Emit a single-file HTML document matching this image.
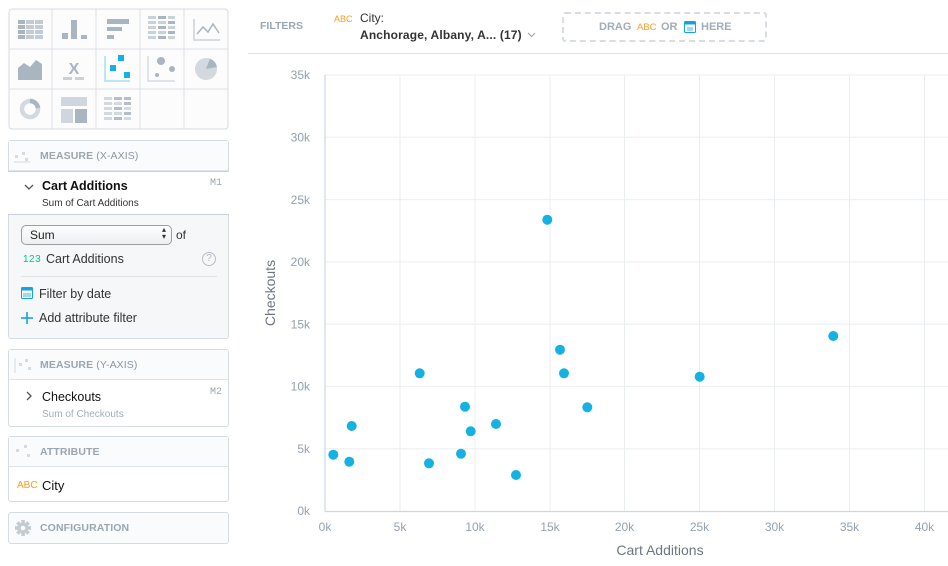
<!DOCTYPE html>
<html><head><meta charset="utf-8">
<style>
*{margin:0;padding:0;box-sizing:border-box}
body{width:948px;height:566px;background:#fff;font-family:"Liberation Sans",sans-serif;position:relative;overflow:hidden}
.a{position:absolute}
.box{position:absolute;border:1px solid #d4dbe3;border-radius:3px;background:#fff}
.hdr{position:absolute;left:0;right:0;background:#fafbfc;border-bottom:1px solid #dfe4ea;height:30px}
.ht{position:absolute;left:31px;top:9px;font-size:10.5px;font-weight:bold;color:#9aa6b2;letter-spacing:0.1px}
.ht span{font-weight:normal;color:#8a96a2}
.t{position:absolute;white-space:nowrap}
</style></head><body>

<!-- Icon grid -->
<svg class="a" style="left:0;top:0" width="240" height="135">
<rect x="9" y="9" width="219" height="120" rx="3" fill="#fcfcfd" stroke="#d4dbe3"/>
<g stroke="#dbe1e8" stroke-width="1">
<line x1="52" y1="9" x2="52" y2="129"/><line x1="96" y1="9" x2="96" y2="129"/>
<line x1="140" y1="9" x2="140" y2="129"/><line x1="184" y1="9" x2="184" y2="129"/>
<line x1="9" y1="49" x2="228" y2="49"/><line x1="9" y1="89" x2="228" y2="89"/>
</g>
<g fill="#c3ccd5"><rect x="18" y="20" width="7" height="4" fill="#a9b5c1"/><rect x="26" y="20" width="8" height="4"/><rect x="35" y="20" width="8" height="4"/>
<rect x="18" y="25" width="7" height="4" fill="#a9b5c1"/><rect x="26" y="25" width="8" height="4"/><rect x="35" y="25" width="8" height="4"/>
<rect x="18" y="30" width="7" height="4" fill="#a9b5c1"/><rect x="26" y="30" width="8" height="4"/><rect x="35" y="30" width="8" height="4"/>
<rect x="18" y="35" width="7" height="4" fill="#a9b5c1"/><rect x="26" y="35" width="8" height="4"/><rect x="35" y="35" width="8" height="4"/></g>
<g fill="#a9b5c1"><rect x="62" y="33" width="6" height="6"/><rect x="71" y="20" width="6" height="19"/><rect x="81" y="35" width="6" height="4"/></g>
<g fill="#a9b5c1"><rect x="107" y="19" width="22" height="5"/><rect x="107" y="27" width="15" height="4"/><rect x="107" y="35" width="7" height="4"/></g>
<g fill="#c9d1d9"><rect x="148" y="16" width="8" height="3"/><rect x="158" y="16" width="8" height="3" fill="#a9b5c1"/><rect x="168" y="16" width="7" height="3"/>
<rect x="148" y="21" width="8" height="3"/><rect x="158" y="21" width="8" height="3"/><rect x="168" y="21" width="7" height="3" fill="#a9b5c1"/>
<rect x="148" y="26" width="8" height="3"/><rect x="158" y="26" width="8" height="3" fill="#a9b5c1"/><rect x="168" y="26" width="7" height="3"/>
<rect x="148" y="31" width="8" height="3"/><rect x="158" y="31" width="8" height="3"/><rect x="168" y="31" width="7" height="3" fill="#a9b5c1"/>
<rect x="148" y="36" width="8" height="3"/><rect x="158" y="36" width="8" height="3" fill="#a9b5c1"/><rect x="168" y="36" width="7" height="3"/></g>
<polyline points="194,19 194,40 220,40" fill="none" stroke="#c9d1d9" stroke-width="1.5"/>
<polyline points="197,34 203,27 208,32 213,24 219,33" fill="none" stroke="#a9b5c1" stroke-width="1.5"/>
<polygon points="18,68 24,63 30,67 36,60 42,64 42,80 18,80" fill="#a9b5c1"/>
<text x="74" y="74" text-anchor="middle" font-size="16" font-weight="bold" fill="#a9b5c1" font-family="Liberation Sans">X</text>
<rect x="63" y="77" width="9" height="3" fill="#c9d1d9"/><rect x="75" y="77" width="9" height="3" fill="#c9d1d9"/>
<polyline points="105,56 105,81 130,81" fill="none" stroke="#a7dff2" stroke-width="1.5"/>
<g fill="#14b2e2"><rect x="110" y="65" width="6" height="6"/><rect x="118" y="55" width="6" height="6"/><rect x="124" y="72" width="6" height="6"/></g>
<polyline points="148,56 148,81 175,81" fill="none" stroke="#d5dbe2" stroke-width="1.5"/>
<g fill="#a9b5c1"><circle cx="161" cy="61" r="4"/><circle cx="172" cy="69" r="3"/><circle cx="157" cy="75" r="2"/></g>
<circle cx="206" cy="69" r="11" fill="#d3d9df"/>
<path d="M206,69 L210,58.7 A11,11 0 0 1 217,67 Z" fill="#a9b5c1"/>
<circle cx="30" cy="109" r="8" fill="none" stroke="#d3d9df" stroke-width="4.5"/>
<path d="M30,101 A8,8 0 0 1 38,108" fill="none" stroke="#a9b5c1" stroke-width="4.5"/>
<rect x="61" y="97" width="26" height="9" fill="#cfd6dd"/><rect x="61" y="109" width="12" height="14" fill="#cfd6dd"/><rect x="75" y="109" width="12" height="14" fill="#a9b5c1"/>
<g fill="#d3d9df"><rect x="104" y="97" width="8" height="3"/><rect x="114" y="97" width="8" height="3" fill="#b3bec9"/><rect x="124" y="97" width="7" height="3" fill="#b3bec9"/>
<rect x="104" y="102" width="8" height="3"/><rect x="114" y="102" width="8" height="3"/><rect x="124" y="102" width="7" height="3" fill="#b3bec9"/>
<rect x="104" y="107" width="8" height="3"/><rect x="114" y="107" width="8" height="3" fill="#b3bec9"/><rect x="124" y="107" width="7" height="3"/>
<rect x="104" y="112" width="8" height="3"/><rect x="114" y="112" width="8" height="3"/><rect x="124" y="112" width="7" height="3" fill="#b3bec9"/>
<rect x="104" y="117" width="8" height="3"/><rect x="114" y="117" width="8" height="3" fill="#b3bec9"/><rect x="124" y="117" width="7" height="3"/></g>
</svg>

<!-- Measure X -->
<div class="box" style="left:8px;top:140px;width:221px;height:199px;background:#f6f7f9">
  <div class="hdr" style="top:0;background:#fafbfc"><div class="ht">MEASURE <span>(X-AXIS)</span></div></div>
  <div class="a" style="left:-1px;right:-1px;top:30px;height:44px;background:#fff;border:1px solid #c9d2dc;border-left:none;border-right:none"></div>
  <div class="t" style="left:33px;top:38px;font-size:12.5px;font-weight:bold;color:#111">Cart Additions</div>
  <div class="t" style="left:33px;top:57px;font-size:10px;color:#333">Sum of Cart Additions</div>
  <div class="t" style="left:201px;top:37px;font-size:10px;color:#9aa6b2;font-family:'Liberation Mono',monospace">M1</div>
  <div class="a" style="left:12px;top:84px;width:151px;height:20px;border:1px solid #9a9fa5;border-radius:5px;background:linear-gradient(#fdfdfd,#eeeff1)"></div>
  <div class="t" style="left:21px;top:87px;font-size:12px;color:#222">Sum</div>
  <div class="t" style="left:153px;top:85px;font-size:8px;color:#333;line-height:7px">▴<br>▾</div>
  <div class="t" style="left:167px;top:87px;font-size:12px;color:#333">of</div>
  <div class="t" style="left:14px;top:113px;font-size:10px;color:#00c18d;letter-spacing:0.5px">123</div>
  <div class="t" style="left:37px;top:111px;font-size:12.5px;color:#333">Cart Additions</div>
  <div class="a" style="left:193px;top:111px;width:14px;height:14px;border:1px solid #b7bec6;border-radius:50%;font-size:10px;color:#b0b8c0;text-align:center;line-height:12px">?</div>
  <div class="a" style="left:12px;top:135px;width:196px;height:1px;background:#dfe3e8"></div>
  <div class="t" style="left:30px;top:146px;font-size:12.5px;color:#333">Filter by date</div>
  <div class="t" style="left:30px;top:170px;font-size:12.5px;color:#333">Add attribute filter</div>
</div>
<svg class="a" style="left:0;top:140px" width="240" height="200">
  <g fill="#d5dbe1"><rect x="15" y="15" width="3" height="3"/><rect x="22" y="12" width="3" height="3"/><rect x="25" y="18" width="3" height="3"/></g>
  <line x1="14" y1="22" x2="30" y2="22" stroke="#d5dbe1"/>
  <polyline points="25,45 29,49 33,45" fill="none" stroke="#555" stroke-width="1.3"/>
  <rect x="21.5" y="147.5" width="11" height="11" rx="1" fill="none" stroke="#14a3dd"/>
  <rect x="21.5" y="147.5" width="11" height="3" fill="#14a3dd"/>
  <rect x="23" y="153" width="8" height="4" fill="#9fd8ef"/>
  <line x1="27" y1="172" x2="27" y2="184" stroke="#14a3dd" stroke-width="1.6"/>
  <line x1="21" y1="178" x2="33" y2="178" stroke="#14a3dd" stroke-width="1.6"/>
</svg>

<!-- Measure Y -->
<div class="box" style="left:8px;top:349px;width:221px;height:78px">
  <div class="hdr" style="top:0"><div class="ht">MEASURE <span>(Y-AXIS)</span></div></div>
  <div class="t" style="left:33px;top:40px;font-size:12.5px;color:#111">Checkouts</div>
  <div class="t" style="left:33px;top:59px;font-size:10px;color:#a3adb7">Sum of Checkouts</div>
  <div class="t" style="left:201px;top:37px;font-size:10px;color:#9aa6b2;font-family:'Liberation Mono',monospace">M2</div>
</div>
<svg class="a" style="left:0;top:349px" width="240" height="80">
  <line x1="15" y1="9" x2="15" y2="24" stroke="#d5dbe1"/>
  <g fill="#d5dbe1"><rect x="19" y="14" width="3" height="3"/><rect x="25" y="10" width="3" height="3"/><rect x="28" y="18" width="3" height="3"/></g>
  <polyline points="27,43 31,47 27,51" fill="none" stroke="#555" stroke-width="1.3"/>
</svg>

<!-- Attribute -->
<div class="box" style="left:8px;top:436px;width:221px;height:66px">
  <div class="hdr" style="top:0"><div class="ht">ATTRIBUTE</div></div>
  <div class="t" style="left:8px;top:43px;font-size:10px;color:#ff9a1d">ABC</div>
  <div class="t" style="left:33px;top:41px;font-size:13px;color:#111">City</div>
</div>
<svg class="a" style="left:0;top:436px" width="40" height="30">
  <g fill="#d5dbe1"><rect x="16" y="13" width="3" height="3"/><rect x="24" y="9" width="3" height="3"/><rect x="27" y="18" width="3" height="3"/></g>
</svg>

<!-- Configuration -->
<div class="box" style="left:8px;top:512px;width:221px;height:32px;background:#fafbfc">
  <div class="ht" style="top:9px">CONFIGURATION</div>
</div>
<svg class="a" style="left:14px;top:519px" width="18" height="18">
  <g fill="#c3ccd5" transform="translate(9,9)">
    <circle r="5.5"/>
    <g><rect x="-1.8" y="-8" width="3.6" height="16"/><rect x="-1.8" y="-8" width="3.6" height="16" transform="rotate(45)"/><rect x="-1.8" y="-8" width="3.6" height="16" transform="rotate(90)"/><rect x="-1.8" y="-8" width="3.6" height="16" transform="rotate(135)"/></g>
    <circle r="2.3" fill="#fafbfc"/>
  </g>
</svg>

<!-- Filter bar -->
<div class="t" style="left:260px;top:20px;font-size:10.5px;font-weight:bold;color:#9aa6b2">FILTERS</div>
<div class="t" style="left:334px;top:14px;font-size:9px;color:#ff9a1d">ABC</div>
<div class="t" style="left:360px;top:11px;font-size:12px;color:#333">City:</div>
<div class="t" style="left:360px;top:28px;font-size:12px;font-weight:bold;color:#333;letter-spacing:0.15px">Anchorage, Albany, A... (17)</div>
<svg class="a" style="left:527px;top:31px" width="10" height="8"><polyline points="1,2 4.5,5.5 8,2" fill="none" stroke="#9aa6b2" stroke-width="1.1"/></svg>
<div class="a" style="left:562px;top:12px;width:205px;height:30px;border:2px dashed #d8dde3;border-radius:3px"></div>
<div class="t" style="left:599px;top:21px;font-size:11px;font-weight:bold;color:#a3adb7">DRAG</div>
<div class="t" style="left:637px;top:22px;font-size:9.5px;color:#ff9a1d">ABC</div>
<div class="t" style="left:661px;top:21px;font-size:11px;font-weight:bold;color:#a3adb7">OR</div>
<div class="t" style="left:701px;top:21px;font-size:11px;font-weight:bold;color:#a3adb7">HERE</div>
<svg class="a" style="left:683px;top:20px" width="14" height="14">
  <rect x="1.5" y="1.5" width="11" height="11" rx="1" fill="none" stroke="#14a3dd"/>
  <rect x="1.5" y="1.5" width="11" height="3" fill="#14a3dd"/>
  <rect x="4" y="7" width="6" height="4" fill="#9fd8ef"/>
</svg>
<div class="a" style="left:248px;top:53px;width:700px;height:1px;background:#dde4eb"></div>

<!-- Chart -->
<svg class="a" style="left:0;top:0" width="948" height="566" font-family="Liberation Sans, sans-serif">
  <g stroke="#ebeef1" stroke-width="1">
    <line x1="325" y1="75" x2="948" y2="75"/>
    <line x1="325" y1="137.3" x2="948" y2="137.3"/>
    <line x1="325" y1="199.6" x2="948" y2="199.6"/>
    <line x1="325" y1="261.9" x2="948" y2="261.9"/>
    <line x1="325" y1="324.1" x2="948" y2="324.1"/>
    <line x1="325" y1="386.4" x2="948" y2="386.4"/>
    <line x1="325" y1="448.7" x2="948" y2="448.7"/>
    <line x1="400" y1="75" x2="400" y2="511"/>
    <line x1="475" y1="75" x2="475" y2="511"/>
    <line x1="550" y1="75" x2="550" y2="511"/>
    <line x1="624.5" y1="75" x2="624.5" y2="511"/>
    <line x1="699.5" y1="75" x2="699.5" y2="511"/>
    <line x1="774.5" y1="75" x2="774.5" y2="511"/>
    <line x1="849.5" y1="75" x2="849.5" y2="511"/>
    <line x1="924.5" y1="75" x2="924.5" y2="511"/>
  </g>
  <line x1="325" y1="75" x2="325" y2="511.5" stroke="#ccd7e2" stroke-width="1.2"/>
  <line x1="325" y1="511.5" x2="948" y2="511.5" stroke="#ccd7e2" stroke-width="1.2"/>
  <g font-size="12" fill="#94a1ad" text-anchor="end">
    <text x="310" y="79">35k</text>
    <text x="310" y="141.5">30k</text>
    <text x="310" y="204">25k</text>
    <text x="310" y="266">20k</text>
    <text x="310" y="328.5">15k</text>
    <text x="310" y="390.5">10k</text>
    <text x="310" y="453">5k</text>
    <text x="310" y="515">0k</text>
  </g>
  <g font-size="12" fill="#94a1ad" text-anchor="middle">
    <text x="325" y="531">0k</text>
    <text x="400" y="531">5k</text>
    <text x="475" y="531">10k</text>
    <text x="550" y="531">15k</text>
    <text x="624.5" y="531">20k</text>
    <text x="699.5" y="531">25k</text>
    <text x="774.5" y="531">30k</text>
    <text x="849.5" y="531">35k</text>
    <text x="924.5" y="531">40k</text>
  </g>
  <text x="660" y="555" font-size="14" fill="#6d7680" text-anchor="middle">Cart Additions</text>
  <text transform="translate(275,293) rotate(-90)" font-size="14" fill="#6d7680" text-anchor="middle">Checkouts</text>
  <g fill="#14b2e2">
    <circle cx="333.3" cy="454.7" r="5"/>
    <circle cx="349.3" cy="461.7" r="5"/>
    <circle cx="351.7" cy="426" r="5"/>
    <circle cx="419.7" cy="373.3" r="5"/>
    <circle cx="429" cy="463.3" r="5"/>
    <circle cx="465" cy="406.7" r="5"/>
    <circle cx="461" cy="453.7" r="5"/>
    <circle cx="470.7" cy="431.3" r="5"/>
    <circle cx="496" cy="424" r="5"/>
    <circle cx="516" cy="475" r="5"/>
    <circle cx="560" cy="349.7" r="5"/>
    <circle cx="564" cy="373.3" r="5"/>
    <circle cx="587.3" cy="407.3" r="5"/>
    <circle cx="699.7" cy="376.7" r="5"/>
    <circle cx="833.3" cy="336" r="5"/>
    <circle cx="547.3" cy="219.7" r="5"/>
  </g>
</svg>
</body></html>
